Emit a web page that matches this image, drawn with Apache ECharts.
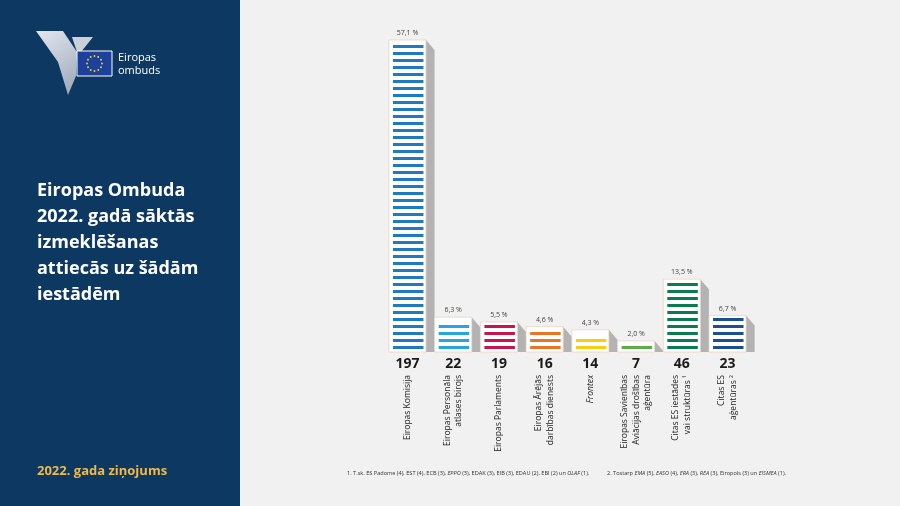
<!DOCTYPE html>
<html><head><meta charset="utf-8">
<script src="https://cdn.jsdelivr.net/npm/echarts/dist/echarts.min.js"></script>
<style>html,body{margin:0;padding:0;background:#f1f1f1}#c{width:900px;height:506px}</style>
</head><body><div id="c"></div>
<script>
// ---- data ----
const categories = ['Eiropas Komisija', 'Eiropas Personāla\natlases birojs', 'Eiropas Parlaments', 'Eiropas Ārējās\ndarbības dienests', 'Frontex', 'Eiropas Savienības\nAviācijas drošības\naģentūra', 'Citas ES iestādes\nvai struktūras ¹', 'Citas ES\naģentūras ²'];
const values = [197, 22, 19, 16, 14, 7, 46, 23];
const percents = ['57,1 %', '6,3 %', '5,5 %', '4,6 %', '4,3 %', '2,0 %', '13,5 %', '6,7 %'];
const stripeColors = ['#1f7ac0', '#27a6dc', '#c8154a', '#ea7424', '#f3d10f', '#5aae45', '#0a7a4f', '#1c4f8f'];
const titleLines = ['Eiropas Ombuda', '2022. gadā sāktās', 'izmeklēšanas', 'attiecās uz šādām', 'iestādēm'];
const footnote1 = '1. T.sk. ES Padome (4), EST (4), ECB (3), {i|EPPO} (3), EDAK (3), EIB (3), EDAU (2), EBI (2) un {i|OLAF} (1).';
const footnote2 = '2. Tostarp {i|EMA} (5), {i|EASO} (4), {i|ERA} (3), {i|REA} (3), Eiropols (3) un {i|EISMEA} (1).';

const FONT = '"Open Sans", "Noto Sans", sans-serif';
const chart = echarts.init(document.getElementById('c'), null, {renderer: 'canvas'});

function renderBar(params, api) {
  const i = api.value(0), v = api.value(1);
  const top = api.coord([i, v]);
  const base = api.coord([i, 0]);
  const boxW = 37, sw = 8.6, drop = 10;
  const x0 = top[0] - boxW / 2;
  const yT = top[1], yB = base[1];
  const children = [];
  children.push({type: 'polygon', shape: {points: [[x0 + boxW, yT], [x0 + boxW + sw, Math.min(yT + drop, yB)], [x0 + boxW + sw, yB], [x0 + boxW, yB]]},
    style: {fill: '#b3b3b3'}});
  children.push({type: 'rect', shape: {x: x0, y: yT, width: boxW, height: yB - yT},
    style: {fill: '#ffffff', stroke: '#ecd3c2', lineWidth: 0.8}});
  const col = stripeColors[params.dataIndex];
  for (let k = 0; ; k++) {
    const cy = yB - 4.5 - k * 7.0;
    if (cy - 1.5 < yT + 2.3) break;
    children.push({type: 'rect', shape: {x: x0 + 4, y: cy - 1.5, width: boxW - 6.5, height: 3},
      style: {fill: col}});
  }
  children.push({type: 'text', x: top[0], y: yT - 7,
    style: {text: percents[params.dataIndex], fill: '#444', font: '7px ' + FONT, align: 'center', verticalAlign: 'middle'}});
  return {type: 'group', children};
}

const graphics = [];
graphics.push({type: 'rect', left: 0, top: 0, shape: {x: 0, y: 0, width: 240, height: 506}, style: {fill: '#0d3861'}, z: -10});
// logo
graphics.push({type: 'polygon', shape: {points: [[36, 31], [63, 31], [77, 52], [76, 76], [68, 95], [58, 62]]},
  style: {fill: new echarts.graphic.LinearGradient(0, 0, 1, 1, [{offset: 0, color: '#e3e7ee'}, {offset: 1, color: '#9aa6b8'}])}});
graphics.push({type: 'polygon', shape: {points: [[72, 37], [93, 37], [81, 52], [77, 52]]},
  style: {fill: '#c9d0da'}});
graphics.push({type: 'rect', shape: {x: 77, y: 51, width: 35, height: 25}, style: {fill: '#1d409a', stroke: '#ffffff', lineWidth: 1}});
for (let s = 0; s < 12; s++) {
  const a = s * Math.PI / 6;
  graphics.push({type: 'circle', shape: {cx: 94.5 + 7.5 * Math.cos(a), cy: 63.5 + 7.5 * Math.sin(a), r: 0.9}, style: {fill: '#ffdd00'}});
}
graphics.push({type: 'text', x: 118, y: 58, style: {text: 'Eiropas', fill: '#fff', font: '11px ' + FONT, verticalAlign: 'middle'}});
graphics.push({type: 'text', x: 118, y: 71, style: {text: 'ombuds', fill: '#fff', font: '11px ' + FONT, verticalAlign: 'middle'}});
// title
titleLines.forEach((t, k) => {
  graphics.push({type: 'text', x: 37, y: 191 + k * 26, style: {text: t, fill: '#ffffff', font: 'bold 18px ' + FONT, verticalAlign: 'middle'}});
});
graphics.push({type: 'text', x: 37, y: 471, style: {text: '2022. gada ziņojums', fill: '#efb84a', font: 'bold 13px ' + FONT, verticalAlign: 'middle'}});
// footnotes
const fnRich = {i: {fontStyle: 'italic', fontSize: 5.6, fontFamily: FONT, fill: '#333'}};
graphics.push({type: 'text', x: 347, y: 473, style: {text: footnote1, fill: '#333', font: '5.6px ' + FONT, verticalAlign: 'middle', rich: fnRich}});
graphics.push({type: 'text', x: 607, y: 473, style: {text: footnote2, fill: '#333', font: '5.6px ' + FONT, verticalAlign: 'middle', rich: fnRich}});

chart.setOption({
  backgroundColor: '#f1f1f1',
  animation: false,
  grid: {left: 384.6, right: 149.6, top: 40, bottom: 154},
  xAxis: [
    {type: 'category', data: categories, position: 'bottom',
      axisLine: {show: false}, axisTick: {show: false},
      axisLabel: {interval: 0, rotate: 90, margin: 23, fontSize: 8.5, lineHeight: 11.5, color: '#222', fontFamily: FONT,
        formatter: v => v === 'Frontex' ? '{i|Frontex}' : v,
        rich: {i: {fontStyle: 'italic', fontSize: 8.5, color: '#222', fontFamily: FONT}}}},
    {type: 'category', data: categories, position: 'bottom',
      axisLine: {show: false}, axisTick: {show: false},
      axisLabel: {interval: 0, margin: 5, fontSize: 14, fontWeight: 'bold', color: '#1a1a1a', fontFamily: FONT,
        formatter: (v, idx) => String(values[idx])}}
  ],
  yAxis: {type: 'value', min: 0, max: 197, show: false},
  series: [{
    type: 'custom', xAxisIndex: 0, yAxisIndex: 0,
    renderItem: renderBar,
    data: values.map((v, i) => [i, v])
  }],
  graphic: graphics
});
</script></body></html>
